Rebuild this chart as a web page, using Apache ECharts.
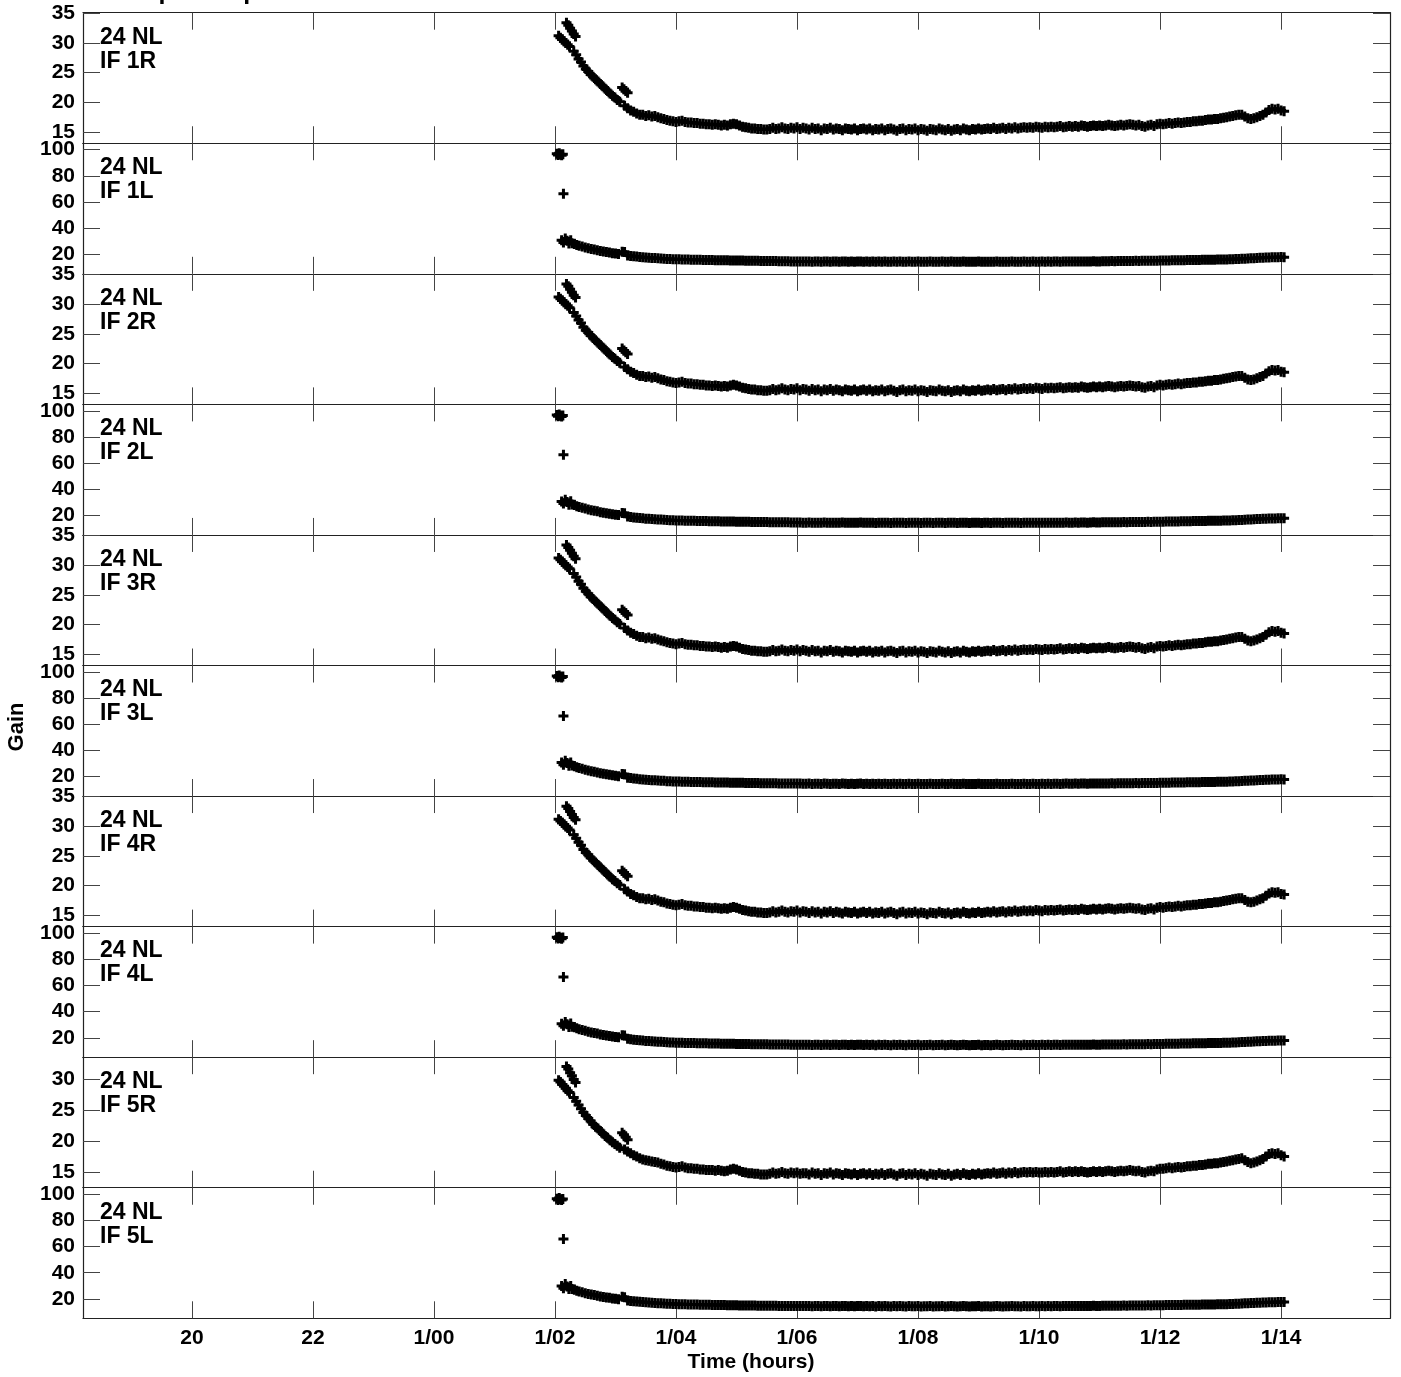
<!DOCTYPE html>
<html><head><meta charset="utf-8">
<script src="https://cdn.jsdelivr.net/npm/echarts@6/dist/echarts.min.js"></script>
<style>html,body{margin:0;padding:0;background:#fff}#c{width:1401px;height:1377px}</style>
</head><body><div id="c"></div>
<script>
// ---------------- DATA ----------------
const TITLE = 'GL2 Rpol & Lpol IF 1 - 10';
const X_MIN = 18.2, X_MAX = 39.8;
const xTicks = [20, 22, 24, 26, 28, 30, 32, 34, 36, 38];
const xTickLabels = ['20', '22', '1/00', '1/02', '1/04', '1/06', '1/08', '1/10', '1/12', '1/14'];
const rTicks = [15, 20, 25, 30, 35];
const r5Ticks = [15, 20, 25, 30];
const lTicks = [20, 40, 60, 80, 100];
const rRange = [13.1, 35.1];
const r5Range = [12.45, 33.5];
const lRange = [5.2, 104.9];

// sample times (hours) shared by the main part of every panel
const mainTimes = [
27.15,27.2,27.25,27.3,27.35,27.4,27.45,27.5,27.55,27.6,27.65,27.7,27.75,27.8,27.85,27.9,27.95,28,28.05,28.1,
28.15,28.2,28.25,28.3,28.35,28.4,28.45,28.5,28.55,28.6,28.65,28.7,28.75,28.8,28.85,28.9,28.95,29,29.05,29.1,
29.15,29.2,29.25,29.3,29.35,29.4,29.45,29.5,29.55,29.6,29.65,29.7,29.75,29.8,29.85,29.9,29.95,30,30.05,30.1,
30.15,30.2,30.25,30.3,30.35,30.4,30.45,30.5,30.55,30.6,30.65,30.7,30.75,30.8,30.85,30.9,30.95,31,31.05,31.1,
31.15,31.2,31.25,31.3,31.35,31.4,31.45,31.5,31.55,31.6,31.65,31.7,31.75,31.8,31.85,31.9,31.95,32,32.05,32.1,
32.15,32.2,32.25,32.3,32.35,32.4,32.45,32.5,32.55,32.6,32.65,32.7,32.75,32.8,32.85,32.9,32.95,33,33.05,33.1,
33.15,33.2,33.25,33.3,33.35,33.4,33.45,33.5,33.55,33.6,33.65,33.7,33.75,33.8,33.85,33.9,33.95,34,34.05,34.1,
34.15,34.2,34.25,34.3,34.35,34.4,34.45,34.5,34.55,34.6,34.65,34.7,34.75,34.8,34.85,34.9,34.95,35,35.05,35.1,
35.15,35.2,35.25,35.3,35.35,35.4,35.45,35.5,35.55,35.6,35.65,35.7,35.75,35.8,35.85,35.9,35.95,36,36.05,36.1,
36.15,36.2,36.25,36.3,36.35,36.4,36.45,36.5,36.55,36.6,36.65,36.7,36.75,36.8,36.85,36.9,36.95,37,37.05,37.1,
37.15,37.2,37.25,37.3,37.35,37.4,37.45,37.5,37.55,37.6,37.65,37.7,37.75,37.8,37.85,37.9,37.95,38,38.05];

// early samples of the R panels (two separate tracks + fall-off + short offset track)
const rEarlyTimes = [
26.06,26.09,26.12,26.15,26.18,26.21,26.24,
26.19,26.22,26.25,26.28,26.31,26.34,
26.31,26.35,26.39,26.43,26.47,26.51,26.55,26.59,26.63,26.67,26.71,26.75,26.79,26.83,26.87,26.91,26.95,26.99,27.03,27.07,
27.11,27.14,27.17,27.2];
// early samples of the L panels (high cluster, single outlier, start cluster, fall-off)
const lEarlyTimes = [
26.03,26.05,26.07,26.09,26.11,26.13,
26.14,
26.11,26.14,26.17,26.20,26.23,26.26,
26.28,26.32,26.36,26.4,26.45,26.5,26.55,26.6,26.65,26.7,26.75,26.8,26.85,26.9,26.95,27,27.05,27.11];

// IF 1R .. IF 4R (panels look identical)
const gainR14Early = [
31.2,30.9,30.6,30.3,30.0,29.7,29.4,
33.4,33.0,32.5,32.0,31.5,31.1,
28.6,28.0,27.3,26.8,26.1,25.6,25.2,24.7,24.3,23.9,23.5,23.1,22.7,22.3,21.9,21.5,21.1,20.8,20.4,20.1,
22.5,22.2,21.9,21.6];
const gainR14Main = [
19.4,19.0,18.6,18.4,18.1,17.9,17.9,17.7,17.8,17.6,17.7,17.5,17.3,17.2,17.0,16.9,16.8,16.7,16.8,16.9,
16.7,16.6,16.6,16.5,16.5,16.4,16.4,16.3,16.3,16.2,16.3,16.2,16.1,16.2,16.1,16.3,16.4,16.3,16.1,15.9,
15.8,15.7,15.6,15.6,15.5,15.5,15.4,15.4,15.5,15.7,15.5,15.6,15.8,15.6,15.5,15.7,15.6,15.8,15.5,15.7,
15.6,15.4,15.7,15.5,15.6,15.3,15.6,15.5,15.7,15.4,15.6,15.5,15.3,15.6,15.5,15.4,15.6,15.3,15.5,15.6,
15.4,15.6,15.3,15.5,15.4,15.6,15.3,15.5,15.6,15.4,15.2,15.5,15.6,15.3,15.5,15.4,15.6,15.3,15.5,15.4,
15.2,15.5,15.4,15.3,15.6,15.4,15.3,15.5,15.2,15.4,15.5,15.3,15.6,15.4,15.3,15.5,15.4,15.6,15.4,15.5,
15.6,15.5,15.7,15.5,15.6,15.7,15.5,15.7,15.6,15.8,15.6,15.7,15.8,15.7,15.8,15.7,15.9,15.8,15.7,15.9,
15.8,15.9,15.8,15.9,16.0,15.8,15.9,16.0,15.9,16.0,15.9,16.1,16.0,15.9,16.0,16.1,16.0,16.1,16.0,16.1,
16.2,16.1,16.0,16.1,16.2,16.1,16.2,16.3,16.2,16.1,16.2,16.0,15.9,16.1,16.2,16.0,16.3,16.4,16.3,16.4,
16.5,16.4,16.5,16.6,16.5,16.6,16.7,16.7,16.8,16.8,16.9,16.9,17.0,17.1,17.1,17.2,17.2,17.3,17.4,17.5,
17.6,17.7,17.8,17.9,17.9,17.6,17.3,17.2,17.3,17.5,17.7,17.9,18.3,18.7,18.9,18.8,18.9,18.6,18.5];

// IF 5R
const gainR5Early = [
29.8,29.5,29.1,28.8,28.5,28.1,27.8,
32.0,31.6,31.0,30.5,29.9,29.4,
27.0,26.4,25.8,25.2,24.6,24.1,23.6,23.2,22.7,22.3,22.0,21.6,21.2,20.8,20.5,20.1,19.8,19.5,19.2,18.9,
21.3,21.0,20.6,20.2];
const gainR5Main = [
18.6,18.3,18.0,17.7,17.5,17.2,17.0,16.9,16.8,16.7,16.6,16.5,16.3,16.2,16.0,15.9,15.8,15.7,15.8,15.9,
15.7,15.6,15.6,15.5,15.5,15.4,15.4,15.3,15.3,15.3,15.2,15.3,15.2,15.1,15.2,15.4,15.5,15.4,15.2,15.0,
14.9,14.8,14.8,14.7,14.7,14.6,14.6,14.6,14.7,14.9,14.7,14.8,15.0,14.8,14.7,14.9,14.8,14.9,14.7,14.8,
14.8,14.6,14.9,14.7,14.8,14.5,14.8,14.7,14.9,14.6,14.8,14.7,14.5,14.8,14.7,14.6,14.8,14.5,14.7,14.8,
14.6,14.8,14.5,14.7,14.6,14.8,14.5,14.7,14.8,14.6,14.4,14.7,14.8,14.5,14.7,14.6,14.8,14.5,14.7,14.6,
14.4,14.7,14.6,14.5,14.8,14.6,14.5,14.7,14.4,14.6,14.7,14.5,14.8,14.6,14.5,14.7,14.6,14.8,14.6,14.7,
14.8,14.7,14.9,14.7,14.8,14.9,14.7,14.9,14.8,15.0,14.8,14.9,15.0,14.9,15.0,14.9,15.0,14.9,14.9,15.0,
14.9,15.0,14.9,15.0,15.1,14.9,15.0,15.1,15.0,15.1,15.0,15.1,15.0,14.9,15.0,15.1,15.0,15.1,15.0,15.1,
15.2,15.1,15.0,15.1,15.2,15.1,15.2,15.3,15.2,15.1,15.2,15.0,14.9,15.1,15.2,15.1,15.4,15.5,15.5,15.6,
15.7,15.6,15.7,15.8,15.7,15.8,15.9,15.9,16.0,16.0,16.1,16.1,16.2,16.3,16.3,16.4,16.4,16.5,16.6,16.7,
16.8,16.9,17.0,17.1,17.2,16.9,16.6,16.4,16.5,16.7,16.9,17.1,17.5,17.9,18.0,17.9,18.0,17.7,17.5];

// IF 1L .. IF 4L (panels look identical)
const gainL14Early = [
96.8,95.9,97.2,96.3,95.7,96.5,
66.4,
30.8,29.2,32.1,30.4,28.3,30.9,
28.5,28.0,27.2,26.6,26.0,25.3,24.7,24.1,23.7,23.2,22.6,22.2,21.8,21.4,21.0,20.7,20.4,22.0];
const gainL14Main = [
21.8,19.2,18.9,18.6,18.4,18.1,17.9,17.6,17.5,17.3,17.2,17.0,16.9,16.8,16.6,16.5,16.4,16.3,16.3,16.2,
16.1,16.1,16.0,16.0,15.9,15.9,15.8,15.8,15.7,15.7,15.6,15.6,15.5,15.5,15.5,15.4,15.4,15.3,15.3,15.3,
15.2,15.2,15.1,15.1,15.1,15.0,15.0,15.0,14.9,14.9,14.9,14.8,14.8,14.8,14.8,14.7,14.7,14.7,14.7,14.6,
14.6,14.7,14.5,14.6,14.6,14.5,14.7,14.6,14.5,14.6,14.6,14.5,14.7,14.6,14.5,14.6,14.5,14.6,14.7,14.5,
14.6,14.5,14.6,14.4,14.6,14.5,14.6,14.5,14.4,14.6,14.5,14.6,14.5,14.4,14.6,14.5,14.5,14.6,14.4,14.5,
14.5,14.6,14.4,14.5,14.5,14.6,14.4,14.5,14.6,14.5,14.4,14.5,14.6,14.5,14.4,14.5,14.5,14.6,14.4,14.5,
14.5,14.4,14.5,14.6,14.5,14.4,14.5,14.5,14.6,14.5,14.5,14.4,14.6,14.5,14.5,14.6,14.5,14.5,14.6,14.5,
14.6,14.5,14.6,14.6,14.5,14.6,14.7,14.6,14.6,14.7,14.6,14.7,14.7,14.6,14.7,14.8,14.7,14.7,14.8,14.8,
14.8,14.9,14.8,14.9,14.9,15.0,14.9,15.0,15.0,15.1,15.0,15.1,15.1,15.2,15.1,15.2,15.2,15.3,15.3,15.4,
15.4,15.5,15.5,15.5,15.6,15.6,15.7,15.7,15.8,15.8,15.8,15.9,15.9,16.0,16.0,16.0,16.1,16.1,16.2,16.2,
16.3,16.4,16.5,16.6,16.7,16.8,16.9,17.0,17.1,17.3,17.4,17.5,17.6,17.7,17.8,17.8,17.9,18.0,17.9];

// IF 5L
const gainL5Early = [
96.5,95.6,97.0,96.1,95.5,96.3,
65.8,
29.8,28.2,31.3,29.5,27.5,29.9,
27.6,27.0,26.3,25.6,25.0,24.4,23.8,23.3,22.9,22.4,21.9,21.5,21.1,20.8,20.4,20.1,19.8,21.6];
const gainL5Main = [
21.2,18.8,18.5,18.2,18.0,17.8,17.6,17.4,17.2,17.0,16.9,16.7,16.6,16.5,16.4,16.3,16.2,16.1,16.0,16.0,
15.9,15.8,15.8,15.7,15.7,15.6,15.6,15.5,15.5,15.4,15.4,15.3,15.3,15.3,15.2,15.2,15.1,15.1,15.0,15.0,
15.0,14.9,14.9,14.9,14.8,14.8,14.8,14.7,14.7,14.7,14.7,14.6,14.6,14.6,14.6,14.5,14.6,14.5,14.5,14.6,
14.5,14.6,14.4,14.5,14.5,14.4,14.6,14.5,14.4,14.5,14.5,14.4,14.6,14.5,14.4,14.5,14.4,14.5,14.6,14.4,
14.5,14.4,14.5,14.3,14.5,14.4,14.5,14.4,14.3,14.5,14.4,14.5,14.4,14.3,14.5,14.4,14.4,14.5,14.3,14.4,
14.4,14.5,14.3,14.4,14.4,14.5,14.3,14.4,14.5,14.4,14.3,14.4,14.5,14.4,14.3,14.4,14.4,14.5,14.3,14.4,
14.4,14.3,14.4,14.5,14.4,14.3,14.4,14.4,14.5,14.4,14.4,14.3,14.5,14.4,14.4,14.5,14.4,14.4,14.5,14.4,
14.5,14.4,14.5,14.5,14.4,14.5,14.6,14.5,14.5,14.6,14.5,14.6,14.6,14.5,14.6,14.7,14.6,14.6,14.7,14.7,
14.7,14.8,14.7,14.8,14.8,14.9,14.8,14.9,14.9,15.0,14.9,15.0,15.0,15.1,15.0,15.1,15.1,15.2,15.2,15.3,
15.3,15.3,15.4,15.4,15.4,15.5,15.5,15.5,15.6,15.6,15.6,15.7,15.7,15.8,15.8,15.8,15.9,15.9,16.0,16.0,
16.1,16.2,16.3,16.4,16.5,16.6,16.7,16.8,16.9,17.0,17.1,17.2,17.3,17.4,17.5,17.5,17.6,17.7,17.6];

const panelNames = ['IF 1R','IF 1L','IF 2R','IF 2L','IF 3R','IF 3L','IF 4R','IF 4L','IF 5R','IF 5L'];
const panelLine1 = '24 NL';

// ---------------- CHART ----------------
function pairs(early, earlyT, main){
  const out = [];
  earlyT.forEach((t,k)=>out.push([t, early[k]]));
  mainTimes.forEach((t,k)=>out.push([t, main[k]]));
  return out;
}
const panels = panelNames.map((name) => {
  const isR = name.endsWith('R');
  const is5 = name.indexOf('5') >= 0;
  if (isR) return { name, ticks: is5 ? r5Ticks : rTicks, range: is5 ? r5Range : rRange,
    data: pairs(is5 ? gainR5Early : gainR14Early, rEarlyTimes, is5 ? gainR5Main : gainR14Main) };
  return { name, ticks: lTicks, range: lRange,
    data: pairs(is5 ? gainL5Early : gainL14Early, lEarlyTimes, is5 ? gainL5Main : gainL14Main) };
});

const FONT = '"Liberation Sans", Arial, Helvetica, sans-serif';
const GL = 83, GR = 11, TOP0 = 12.7, PH = 130.56;
const PLUS = 'path://M3.5,0H6.5V3.5H10V6.5H6.5V10H3.5V6.5H0V3.5H3.5Z';
const grids = [], xAxes = [], yAxes = [], series = [], graphics = [];
const tickStyle = { color: '#444', width: 1 };
const lineStyle = { color: '#222', width: 1.2 };

panels.forEach((p, i) => {
  const top = TOP0 + i * PH;
  const isLast = i === panels.length - 1;
  grids.push({ left: GL, right: GR, top: top, height: PH });
  const xb = { type: 'value', gridIndex: i, min: X_MIN, max: X_MAX, splitLine: { show: false },
    axisLine: { show: true, onZero: false, lineStyle },
    axisTick: { show: true, inside: true, length: 17, customValues: xTicks, lineStyle: tickStyle } };
  xAxes.push(Object.assign({}, xb, { position: 'bottom',
    axisLabel: { show: isLast, customValues: xTicks,
      formatter: v => { const k = xTicks.indexOf(v); return k >= 0 ? xTickLabels[k] : ''; },
      fontSize: 21, fontWeight: 'bold', color: '#000', fontFamily: FONT, margin: 9 } }));
  xAxes.push(Object.assign({}, xb, { position: 'top', axisLabel: { show: false } }));
  const yb = { type: 'value', gridIndex: i, min: p.range[0], max: p.range[1], splitLine: { show: false },
    axisLine: { show: true, onZero: false, lineStyle },
    axisTick: { show: true, inside: true, length: 17, customValues: p.ticks, lineStyle: tickStyle } };
  yAxes.push(Object.assign({}, yb, { position: 'left',
    axisLabel: { show: true, customValues: p.ticks, fontSize: 21, fontWeight: 'bold', color: '#000',
      fontFamily: FONT, margin: 8 } }));
  yAxes.push(Object.assign({}, yb, { position: 'right', axisLabel: { show: false } }));
  series.push({ type: 'scatter', name: p.name, xAxisIndex: 2 * i, yAxisIndex: 2 * i,
    data: p.data, symbol: PLUS, symbolSize: 10, itemStyle: { color: '#000', opacity: 1 }, silent: true });
  graphics.push({ type: 'text', x: 100, y: top + 24.5,
    style: { text: panelLine1, font: 'bold 23px ' + FONT, fill: '#000', verticalAlign: 'middle', align: 'left' } });
  graphics.push({ type: 'text', x: 100, y: top + 48.5,
    style: { text: p.name, font: 'bold 23px ' + FONT, fill: '#000', verticalAlign: 'middle', align: 'left' } });
});

graphics.push({ type: 'text', x: 85, y: 5,
  style: { text: TITLE, font: 'bold 25px ' + FONT, fill: '#000', verticalAlign: 'bottom', align: 'left' } });
graphics.push({ type: 'text', x: 17, y: 727, rotation: Math.PI / 2,
  style: { text: 'Gain', font: 'bold 22px ' + FONT, fill: '#000', verticalAlign: 'middle', align: 'center' } });
graphics.push({ type: 'text', x: 751, y: 1362,
  style: { text: 'Time (hours)', font: 'bold 21px ' + FONT, fill: '#000', verticalAlign: 'middle', align: 'center' } });

const chart = echarts.init(document.getElementById('c'), null, { renderer: 'canvas' });
chart.setOption({
  animation: false,
  backgroundColor: '#fff',
  grid: grids, xAxis: xAxes, yAxis: yAxes, series: series, graphic: graphics
});
</script>
</body></html>
